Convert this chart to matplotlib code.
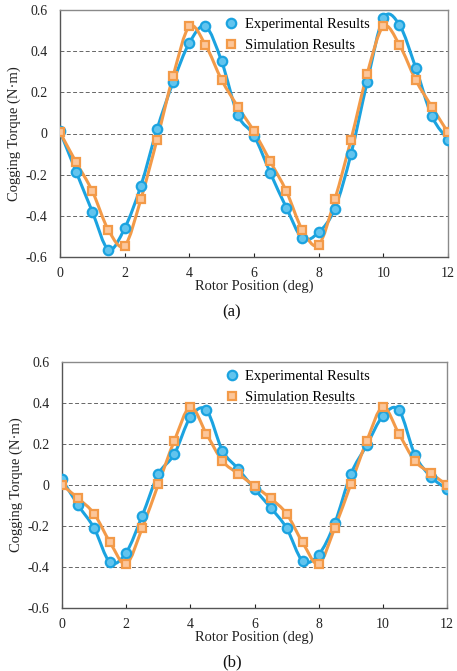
import numpy as np
import matplotlib
matplotlib.use('Agg')
import matplotlib.pyplot as plt
from matplotlib.path import Path
from matplotlib.patches import PathPatch
from matplotlib.lines import Line2D

# --- datos ---
posicion = [0, 0.5, 1, 1.5, 2, 2.5, 3, 3.5, 4, 4.5, 5, 5.5, 6,
            6.5, 7, 7.5, 8, 8.5, 9, 9.5, 10, 10.5, 11, 11.5, 12]

exp_a = [0.01, -0.186, -0.38, -0.564, -0.46, -0.255, 0.02, 0.25, 0.44, 0.52, 0.35, 0.09, -0.01,
         -0.19, -0.36, -0.51, -0.48, -0.365, -0.10, 0.25, 0.56, 0.527, 0.32, 0.084, -0.03]
sim_a = [0.005, -0.14, -0.28, -0.47, -0.545, -0.32, -0.03, 0.28, 0.52, 0.43, 0.26, 0.13, 0.01,
         -0.135, -0.28, -0.47, -0.54, -0.32, -0.03, 0.29, 0.52, 0.43, 0.26, 0.13, 0.005]

exp_b = [0.028, -0.098, -0.21, -0.378, -0.33, -0.15, 0.052, 0.15, 0.33, 0.366, 0.168, 0.077, -0.02,
         -0.11, -0.21, -0.37, -0.34, -0.187, 0.052, 0.195, 0.337, 0.366, 0.147, 0.04, -0.02]
sim_b = [0.0, -0.065, -0.14, -0.28, -0.385, -0.21, 0.003, 0.215, 0.38, 0.25, 0.117, 0.054, -0.005,
         -0.065, -0.14, -0.28, -0.385, -0.21, 0.003, 0.215, 0.38, 0.25, 0.117, 0.057, 0.0]

xticks = [0, 2, 4, 6, 8, 10, 12]
yticks = [-0.6, -0.4, -0.2, 0, 0.2, 0.4, 0.6]
ytick_labels = ['-0.6', '-0.4', '-0.2', '0', '0.2', '0.4', '0.6']

AZUL = '#1ba3e0'
AZUL_CLARO = '#62c4ee'
NARANJA = '#f39a48'
NARANJA_CLARO = '#fcc69a'

plt.rcParams['font.family'] = ['Liberation Serif', 'DejaVu Serif']


def curva_suave(ax, x, y, color):
    # linea suavizada tipo Excel (Catmull-Rom dibujado como Bezier)
    x = np.asarray(x, float)
    y = np.asarray(y, float)
    p = np.column_stack([x, y])
    verts = [p[0]]
    codes = [Path.MOVETO]
    n = len(p)
    for i in range(n - 1):
        p0 = p[i - 1] if i > 0 else p[i]
        p1 = p[i]
        p2 = p[i + 1]
        p3 = p[i + 2] if i + 2 < n else p[i + 1]
        c1 = p1 + (p2 - p0) / 6.0
        c2 = p2 - (p3 - p1) / 6.0
        verts += [c1, c2, p2]
        codes += [Path.CURVE4] * 3
    ax.add_patch(PathPatch(Path(verts, codes), fill=False, edgecolor=color,
                           linewidth=2.2, zorder=3, capstyle='round', joinstyle='round'))


def panel(ax, exp, sim):
    curva_suave(ax, posicion, exp, AZUL)
    curva_suave(ax, posicion, sim, NARANJA)
    ax.plot(posicion, exp, linestyle='none', marker='o', ms=6.8,
            mfc=AZUL_CLARO, mec=AZUL, mew=1.6, zorder=4)
    ax.plot(posicion, sim, linestyle='none', marker='s', ms=6.3,
            mfc=NARANJA_CLARO, mec=NARANJA, mew=1.6, zorder=5)

    ax.set_xlim(0, 12)
    ax.set_ylim(-0.6, 0.6)
    ax.set_xticks(xticks)
    ax.set_yticks(yticks)
    ax.set_yticklabels(ytick_labels)
    for yv in [-0.4, -0.2, 0, 0.2, 0.4]:
        ax.axhline(yv, color='#666666', linestyle=(0, (4, 2.5)), linewidth=0.7, zorder=1)

    ax.tick_params(axis='x', direction='in', length=3, width=0.8, pad=7,
                   labelsize=10, colors='#222222')
    ax.tick_params(axis='y', length=0, pad=9, labelsize=10, colors='#222222')
    for lado in ['top', 'right']:
        ax.spines[lado].set_color('#8a8a8a')
        ax.spines[lado].set_linewidth(1.0)
    for lado in ['left', 'bottom']:
        ax.spines[lado].set_color('#555555')
        ax.spines[lado].set_linewidth(1.0)

    ax.set_xlabel('Rotor Position (deg)', fontsize=10.5, labelpad=0, color='#222222')
    ax.set_ylabel('Cogging Torque (N·m)', fontsize=10.5, labelpad=3, color='#222222')

    h = [Line2D([], [], linestyle='none', marker='o', ms=6.8, mfc=AZUL_CLARO, mec=AZUL, mew=1.6),
         Line2D([], [], linestyle='none', marker='s', ms=6.3, mfc=NARANJA_CLARO, mec=NARANJA, mew=1.6)]
    ax.legend(h, ['Experimental Results', 'Simulation Results'], loc='upper left',
              bbox_to_anchor=(0.393, 1.01), frameon=False, fontsize=10.5,
              handletextpad=0.3, labelspacing=0.55, handlelength=1.2, borderaxespad=0.3)


fig = plt.figure(figsize=(4.57, 6.71), dpi=100)
fig.patch.set_facecolor('white')

ax1 = fig.add_axes([60 / 457, (671 - 257) / 671, 388 / 457, 247 / 671])
panel(ax1, exp_a, sim_a)

ax2 = fig.add_axes([62 / 457, (671 - 608) / 671, 385 / 457, 246 / 671])
panel(ax2, exp_b, sim_b)

fig.text(232 / 457, 1 - 312 / 671, '(a)', ha='center', va='center', fontsize=12, color='#111111')
fig.text(232 / 457, 1 - 662 / 671, '(b)', ha='center', va='center', fontsize=12, color='#111111')

fig.savefig('out.png', dpi=100, facecolor='white')
